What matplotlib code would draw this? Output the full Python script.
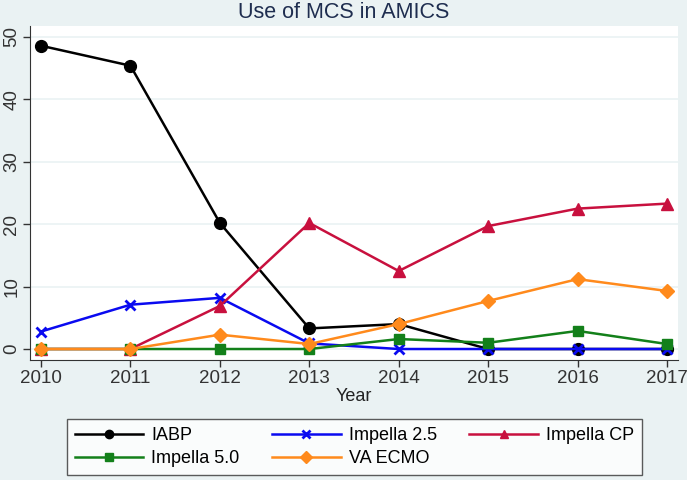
import matplotlib
matplotlib.use("Agg")
import matplotlib.pyplot as plt

plt.rcParams["font.family"] = ["Liberation Sans", "DejaVu Sans"]

# data
years = [2010, 2011, 2012, 2013, 2014, 2015, 2016, 2017]
iabp = [48.6, 45.4, 20.2, 3.3, 4.0, 0.0, 0.0, 0.0]
impella_25 = [2.8, 7.1, 8.2, 0.9, 0.0, 0.0, 0.0, 0.0]
impella_cp = [0.0, 0.0, 6.9, 20.2, 12.5, 19.7, 22.5, 23.3]
impella_50 = [0.0, 0.0, 0.0, 0.0, 1.6, 1.0, 2.9, 0.8]
va_ecmo = [0.0, 0.0, 2.3, 0.8, 4.0, 7.7, 11.2, 9.3]

bg_color = "#EAF2F3"
text_color = "#1E2D4F"

fig = plt.figure(figsize=(6.87, 4.80), dpi=100)
fig.patch.set_facecolor(bg_color)
ax = fig.add_axes([30 / 687, 1 - 360 / 480, 648 / 687, 334 / 480])
ax.set_facecolor("white")

# same order as the legend, last drawn on top
series = [
    ("IABP", iabp, "black", "o", 8.5),
    ("Impella 2.5", impella_25, "#0A0AF0", "x", 6.5),
    ("Impella CP", impella_cp, "#C8103E", "^", 9),
    ("Impella 5.0", impella_50, "#13801A", "s", 6.5),
    ("VA ECMO", va_ecmo, "#FF8A1C", "D", 7.5),
]
handles = {}
for name, vals, col, mk, ms in series:
    (ln,) = ax.plot(
        years, vals, color=col, marker=mk, markersize=ms,
        linewidth=1.8, markeredgewidth=2 if mk == "x" else 1,
        markeredgecolor=col, label=name, clip_on=False,
    )
    handles[name] = ln

ax.set_xlim(2009.877, 2017.123)
ax.set_ylim(-1.76, 51.76)
ax.set_xticks(years)
ax.set_yticks([0, 10, 20, 30, 40, 50])
ax.grid(axis="y", color=bg_color, linewidth=1.2)
ax.set_axisbelow(True)

for side in ["top", "right"]:
    ax.spines[side].set_visible(False)
for side in ["left", "bottom"]:
    ax.spines[side].set_color("#333333")
ax.tick_params(colors="#333333", labelsize=13.5, length=5, width=1, pad=2)
for lab in ax.get_yticklabels():
    lab.set_rotation(90)
    lab.set_va("center")

ax.set_xlabel("Year", fontsize=13, color="#222222", labelpad=1)
fig.text(0.5, 0.974, "Use of MCS in AMICS", ha="center", va="center",
         fontsize=15.5, color=text_color)

order = ["IABP", "Impella 5.0", "Impella 2.5", "VA ECMO", "Impella CP"]
leg = fig.legend(
    [handles[n] for n in order], order, ncol=3,
    loc="center", bbox_to_anchor=(354.5 / 687, 1 - 447 / 480),
    fontsize=13, frameon=True, fancybox=False, handlelength=3.8,
    handletextpad=0.45, columnspacing=1.8, labelspacing=0.35,
    borderpad=0.45, borderaxespad=0,
)
leg.get_frame().set_edgecolor("#333333")
leg.get_frame().set_linewidth(1)
for h in leg.legend_handles:
    h.set_markersize(6)

plt.savefig("out.png", dpi=100, facecolor=bg_color)
